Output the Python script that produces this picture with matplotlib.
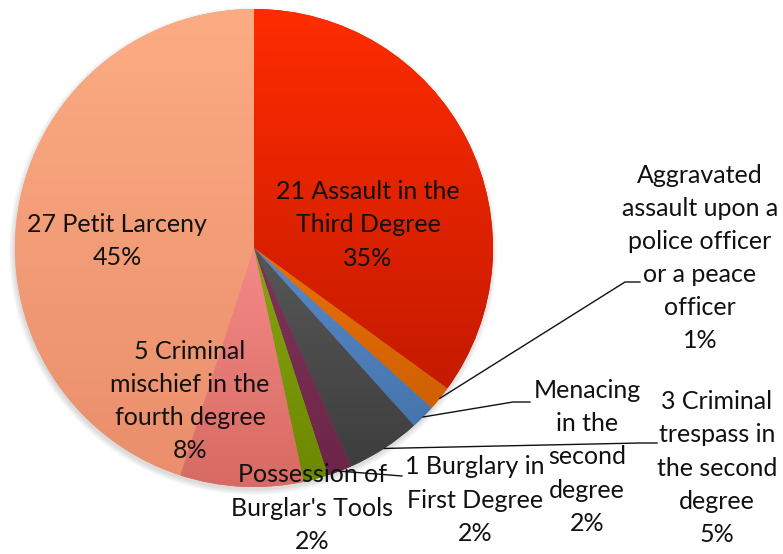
import numpy as np
import matplotlib.pyplot as plt
from matplotlib.colors import LinearSegmentedColormap

# offenses, clockwise from the top
offenses = ['Assault in the Third Degree',
            'Aggravated assault upon a police officer or a peace officer',
            'Menacing in the second degree',
            'Criminal trespass in the second degree',
            'Burglary in First Degree',
            "Possession of Burglar's Tools",
            'Criminal mischief in the fourth degree',
            'Petit Larceny']
counts = [21, 1, 1, 3, 1, 1, 5, 27]
labels = ['21 Assault in the\nThird Degree\n35%',
          'Aggravated\nassault upon a\npolice officer\nor a peace\nofficer\n1%',
          'Menacing\nin the\nsecond\ndegree\n2%',
          '3 Criminal\ntrespass in\nthe second\ndegree\n5%',
          '1 Burglary in\nFirst Degree\n2%',
          "Possession of\nBurglar's Tools\n2%",
          '5 Criminal\nmischief in the\nfourth degree\n8%',
          '27 Petit Larceny\n45%']

# gradient colours (top, bottom) per slice
top_colors = ['#ff2c00', '#e8700c', '#5888c8', '#575757', '#813259', '#87a412', '#f48a88', '#fcac83']
bottom_colors = ['#c51a00', '#cf6000', '#4675ad', '#3e3e3e', '#6c2648', '#6c8800', '#d76a62', '#ea8e6c']

H = 554
cx, cy, R = 254, H - 248, 239

fig = plt.figure(figsize=(7.83, 5.54), dpi=100)
ax = fig.add_axes([0, 0, 1, 1])

# soft shadow
for i in range(6):
    sh = plt.Circle((cx - 1, cy - 3), R + 5 - i, color='black', alpha=0.025, lw=0, zorder=0)
    ax.add_patch(sh)

wedges, _ = ax.pie(counts, startangle=90, counterclock=False, center=(cx, cy),
                   radius=R, wedgeprops=dict(linewidth=0))
ax.set_xlim(0, 783)
ax.set_ylim(0, H)
ax.set_aspect('equal')
ax.axis('off')

grad = np.linspace(0, 1, 256).reshape(-1, 1)
for w, c0, c1 in zip(wedges, top_colors, bottom_colors):
    w.set_facecolor(c1)
    bb = w.get_path().get_extents()
    cmap = LinearSegmentedColormap.from_list('g', [c1, c0])
    im = ax.imshow(grad, cmap=cmap, extent=[bb.x0, bb.x1, bb.y0, bb.y1],
                   origin='lower', aspect='auto', zorder=2)
    im.set_clip_path(w)

font = dict(family='Lato', fontsize=18, color='#111111', ha='center', va='center',
            linespacing=1.53, zorder=5)

label_pos = [(368, 225), (700, 258), (587, 457), (717, 468),
             (475, 500), (312, 508), (190, 401), (117, 241)]
for lab, (x, y) in zip(labels, label_pos):
    ax.text(x, H - y, lab, **font)

# leader lines from slice edges
leaders = {1: [(625, 282), (640, 282)],
           2: [(513, 402), (530, 402)],
           3: [(640, 443), (657, 443)],
           4: [(402, 476)]}
for i, pts in leaders.items():
    w = wedges[i]
    ang = np.deg2rad((w.theta1 + w.theta2) / 2)
    x0 = cx + R * np.cos(ang)
    y0 = cy + R * np.sin(ang)
    xs = [x0] + [p[0] for p in pts]
    ys = [y0] + [H - p[1] for p in pts]
    ax.plot(xs, ys, color='#111111', lw=1, zorder=4)

fig.savefig('out.png', dpi=100)
